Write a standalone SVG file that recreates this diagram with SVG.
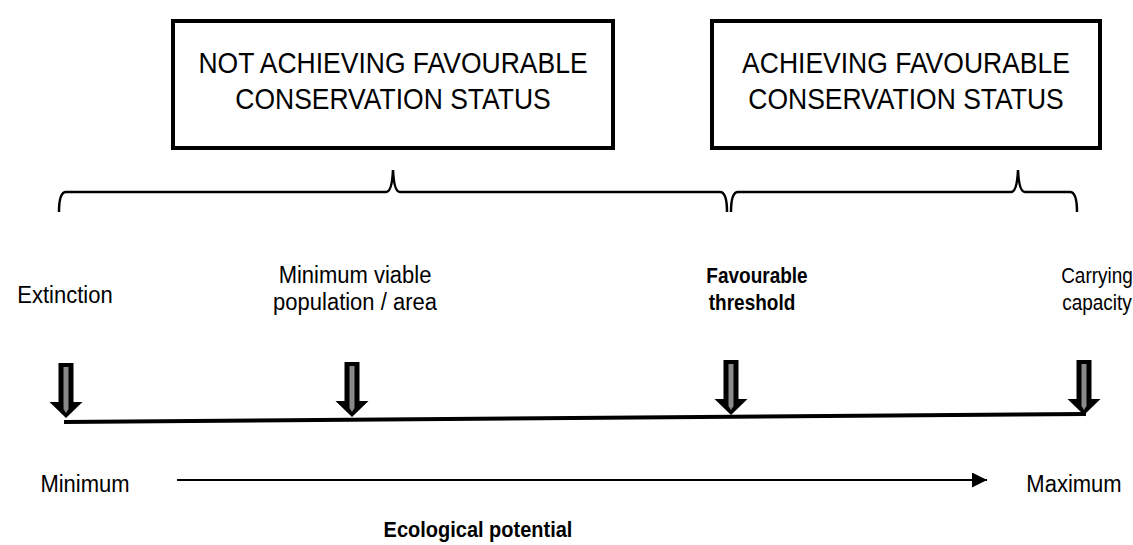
<svg xmlns="http://www.w3.org/2000/svg" width="1133" height="545" viewBox="0 0 1133 545">
<defs>
<style>
.box{fill:#fff;stroke:#000;stroke-width:4}
.bt{font-family:"Liberation Sans",Arial,sans-serif;font-size:26.5px;fill:#000;text-anchor:middle}
.lb{font-family:"Liberation Sans",Arial,sans-serif;font-size:22px;fill:#000;text-anchor:middle}
.sm{font-size:19px}
.bd{font-weight:bold}
.brace{fill:none;stroke:#000;stroke-width:2.5}
.blk{fill:#000}
.strp{fill:#8a8a8a}
</style>
<marker id="ah" viewBox="0 0 10 10" refX="10" refY="5" markerWidth="15" markerHeight="15" markerUnits="userSpaceOnUse" orient="auto"><path d="M0,0 L10,5 L0,10 z" fill="#000"/></marker>
<g id="darrow">
<path class="blk" d="M-7.5,-55 L7.5,-55 L7.5,-16 L16.5,-16 L0,0 L-16.5,-16 L-7.5,-16 Z"/>
<path class="strp" d="M-2.5,-51 L2.5,-51 L2.5,-9 L0,-5 L-2.5,-9 Z"/>
</g>
</defs>
<rect width="1133" height="545" fill="#fff"/>
<g id="box-not">
<rect class="box" x="173" y="21" width="440" height="127"/>
<text class="bt" transform="translate(393 73) scale(1 1.12)">NOT ACHIEVING FAVOURABLE</text>
<text class="bt" transform="translate(393 109) scale(1 1.12)">CONSERVATION STATUS</text>
</g>
<g id="box-achieving">
<rect class="box" x="712" y="21" width="388" height="127"/>
<text class="bt" transform="translate(906 73) scale(1 1.12)">ACHIEVING FAVOURABLE</text>
<text class="bt" transform="translate(906 109) scale(1 1.12)">CONSERVATION STATUS</text>
</g>
<g id="braces">
<path class="brace" d="M59,212 Q59,192 66,192 L386,192 Q392,192 393,170 Q394,192 400,192 L720,192 Q727,192 727,212"/>
<path class="brace" d="M731,212 Q731,192 738,192 L1011,192 Q1017,192 1018,170 Q1019,192 1025,192 L1070,192 Q1077,192 1077,212"/>
</g>
<g id="labels">
<text class="lb" transform="translate(65 303) scale(1 1.12)">Extinction</text>
<text class="lb" transform="translate(355 283) scale(1 1.12)">Minimum viable</text>
<text class="lb" transform="translate(355 310) scale(1 1.12)">population / area</text>
<text class="lb sm bd" transform="translate(757 283) scale(1 1.12)">Favourable</text>
<text class="lb sm bd" transform="translate(752 310) scale(1 1.12)">threshold</text>
<text class="lb sm" transform="translate(1097 283) scale(1 1.12)">Carrying</text>
<text class="lb sm" transform="translate(1097 310) scale(1 1.12)">capacity</text>
</g>
<g id="connectors">
<line x1="64" y1="422" x2="1086" y2="414" stroke="#000" stroke-width="4"/>
<use href="#darrow" transform="translate(66,418)"/>
<use href="#darrow" transform="translate(352,417)"/>
<use href="#darrow" transform="translate(731,415)"/>
<use href="#darrow" transform="translate(1084,415)"/>
<line x1="177" y1="480" x2="987" y2="480" stroke="#000" stroke-width="2" marker-end="url(#ah)"/>
</g>
<g id="axis-labels">
<text class="lb" transform="translate(85 492) scale(1 1.12)">Minimum</text>
<text class="lb" transform="translate(1074 492) scale(1 1.12)">Maximum</text>
<text class="lb bd" style="font-size:20px" transform="translate(478 537) scale(1 1.12)">Ecological potential</text>
</g>
</svg>
